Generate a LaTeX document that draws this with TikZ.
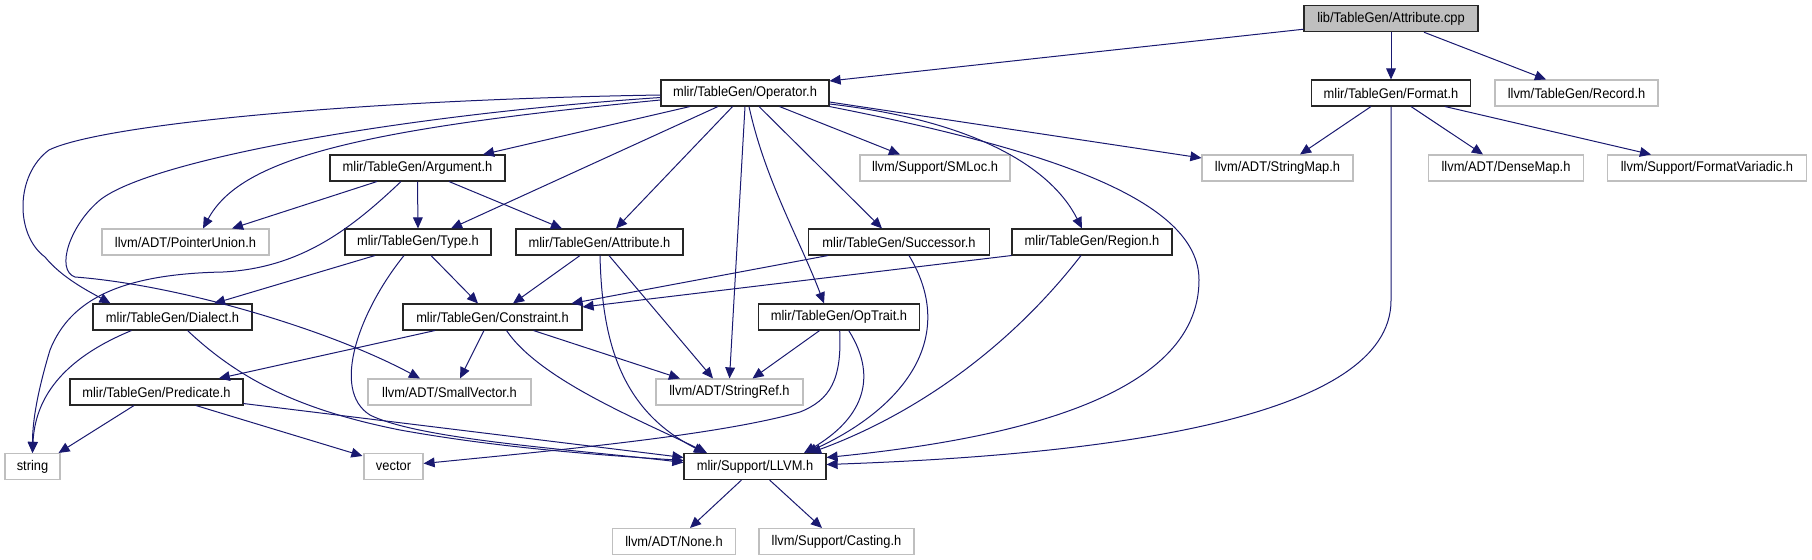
\documentclass[tikz,border=0pt]{standalone}
\usepackage{fontspec}
\setmainfont{Liberation Sans}[FakeStretch=0.92]
\usetikzlibrary{arrows.meta,calc}
\definecolor{edgec}{HTML}{191970}
\definecolor{lgray}{HTML}{BFBFBF}
\begin{document}
\begin{tikzpicture}[x=0.75pt,y=-0.75pt,
  nb/.style={draw=black!85, line width=0.8pt, minimum height=19.5pt, inner sep=0pt,
             font=\fontsize{10.5}{12}\selectfont, fill=white},
  ext/.style={nb, draw=lgray},
  rootb/.style={nb, fill=lgray},
  wd/.style={minimum width=#1*0.75pt},
  edge/.style={draw=edgec, line width=0.75pt, -{Triangle[length=8.3pt,width=7.3pt]}}]
\useasboundingbox (0,0) rectangle (1812,560);
% nodes
\node[rootb, wd=174] (root) at (1391,18.7) {lib/TableGen/Attribute.cpp};
\node[nb,  wd=168] (op)   at (745,93)    {mlir/TableGen/Operator.h};
\node[nb,  wd=159] (fmt)  at (1391,93)   {mlir/TableGen/Format.h};
\node[ext, wd=163] (rec)  at (1576.5,93) {llvm/TableGen/Record.h};
\node[nb,  wd=175] (arg)  at (417.5,168) {mlir/TableGen/Argument.h};
\node[ext, wd=150] (sml)  at (935,168)   {llvm/Support/SMLoc.h};
\node[ext, wd=151] (smap) at (1277.5,168){llvm/ADT/StringMap.h};
\node[ext, wd=155] (dmap) at (1506,168)  {llvm/ADT/DenseMap.h};
\node[ext, wd=199] (fvar) at (1707,168)  {llvm/Support/FormatVariadic.h};
\node[ext, wd=167] (pu)   at (185.5,242) {llvm/ADT/PointerUnion.h};
\node[nb,  wd=146] (type) at (418,242)   {mlir/TableGen/Type.h};
\node[nb,  wd=167] (attr) at (599.5,242) {mlir/TableGen/Attribute.h};
\node[nb,  wd=181] (succ) at (899,242)   {mlir/TableGen/Successor.h};
\node[nb,  wd=160] (reg)  at (1092,242)  {mlir/TableGen/Region.h};
\node[nb,  wd=159] (dia)  at (172.5,317) {mlir/TableGen/Dialect.h};
\node[nb,  wd=179] (con)  at (492.5,317) {mlir/TableGen/Constraint.h};
\node[nb,  wd=161] (opt)  at (839,317)   {mlir/TableGen/OpTrait.h};
\node[nb,  wd=173] (pred) at (156.5,392) {mlir/TableGen/Predicate.h};
\node[ext, wd=163] (svec) at (449.5,392) {llvm/ADT/SmallVector.h};
\node[ext, wd=147] (sref) at (729.5,392) {llvm/ADT/StringRef.h};
\node[ext, wd=55]  (str)  at (32.5,466.5){string};
\node[ext, wd=59]  (vec)  at (393.5,466.5){vector};
\node[nb,  wd=142] (llvm) at (755,466.5) {mlir/Support/LLVM.h};
\node[ext, wd=122.5] (none) at (674,541.5) {llvm/ADT/None.h};
\node[ext, wd=155] (cast) at (836.5,541.5) {llvm/Support/Casting.h};
% root
\draw[edge] ($(root.south west)+(0,-3)$) -- ($(op.north east)+(0,1.5)$);
\draw[edge] (root.south) -- (fmt.north);
\draw[edge] ($(root.south)+(33,0)$) -- ($(rec.north)+(-30.5,0)$);
% format
\draw[edge] ($(fmt.south)+(-20,0)$) -- ($(smap.north)+(22.5,0)$);
\draw[edge] ($(fmt.south)+(20,0)$) -- ($(dmap.north)+(-23,0)$);
\draw[edge] ($(fmt.south)+(54,0)$) -- ($(fvar.north)+(-56,0)$);
\draw[edge] (fmt.south) -- ($(fmt.south)+(0,194)$) .. controls (1391,420) and (1100,455) .. ($(llvm.east)+(0,-2)$);
% operator
\draw[edge] ($(op.east)+(0,9)$) -- ($(smap.west)+(0,-10)$);
\draw[edge] ($(op.south)+(34.5,0)$) -- ($(sml.north)+(-35,0)$);
\draw[edge] ($(op.south)+(14,0)$) -- ($(succ.north)+(-17,0)$);
\draw[edge] ($(op.east)+(0,11)$) .. controls (970,120) and (1050,165) .. ($(reg.north)+(-10,0)$);
\draw[edge] ($(op.south east)+(0,0)$) .. controls (1050,150) and (1199,200) .. (1199,280) .. controls (1199,400) and (1000,440) .. ($(llvm.east)+(0,-9)$);
\draw[edge] ($(op.south)+(4,0)$) .. controls (765,180) and (800,240) .. ($(opt.north)+(-15,0)$);
\draw[edge] (op.south) -- (sref.north);
\draw[edge] ($(op.south)+(-12.4,0)$) -- ($(attr.north)+(16.5,0)$);
\draw[edge] ($(op.south)+(-27,0)$) -- ($(type.north)+(33,0)$);
\draw[edge] ($(op.south)+(-55,0)$) -- ($(arg.north)+(65.5,0)$);
\draw[edge] ($(op.west)+(0,7)$) .. controls (350,130) and (240,160) .. ($(pu.north)+(17.5,0)$);
\draw[edge] ($(op.west)+(0,2)$) .. controls (350,100) and (100,125) .. (49,150) .. controls (15,175) and (15,235) .. (45,257) .. controls (62,278) and (90,292) .. ($(dia.north)+(-62,0)$);
\draw[edge] ($(op.west)+(0,4.5)$) .. controls (400,115) and (150,160) .. (100,200) .. controls (70,225) and (55,270) .. (75,277) .. controls (180,285) and (330,330) .. ($(svec.north)+(-29.5,0)$);
% argument
\draw[edge] ($(arg.south)+(-40.5,0)$) -- ($(pu.north)+(46.5,0)$);
\draw[edge] (arg.south) -- (type.north);
\draw[edge] ($(arg.south)+(31.5,0)$) -- ($(attr.north)+(-37.5,0)$);
\draw[edge] ($(arg.south)+(-16.5,0)$) .. controls (350,230) and (300,268) .. (223,272) .. controls (120,274) and (70,300) .. (50,350) .. controls (38,390) and (32.5,420) .. (str.north);
% type
\draw[edge] ($(type.south)+(-43,0)$) -- ($(dia.north)+(41.5,0)$);
\draw[edge] ($(type.south)+(13,0)$) -- ($(con.north)+(-14.5,0)$);
\draw[edge] ($(type.south)+(-14,0)$) .. controls (360,310) and (330,390) .. (370,415) .. controls (420,440) and (580,450) .. ($(llvm.west)+(0,-4)$);
% attribute
\draw[edge] ($(attr.south)+(-19.5,0)$) -- ($(con.north)+(20.5,0)$);
\draw[edge] ($(attr.south)+(0.5,0)$) .. controls (602,340) and (620,410) .. ($(llvm.north)+(-50,0)$);
\draw[edge] ($(attr.south)+(9.5,0)$) -- ($(sref.north)+(-16.5,0)$);
% successor
\draw[edge] ($(succ.south west)+(20,0)$) -- ($(con.north east)+(-11,0)$);
\draw[edge] ($(succ.south)+(10,0)$) .. controls (960,340) and (900,410) .. ($(llvm.north)+(51,0)$);
% region
\draw[edge] (reg.south west) -- ($(con.east)+(0,-10)$);
\draw[edge] ($(reg.south)+(-11,0)$) .. controls (1000,360) and (900,420) .. ($(llvm.north)+(55,0)$);
% constraint
\draw[edge] ($(con.south)+(-57.5,0)$) -- ($(pred.north)+(62.25,0)$);
\draw[edge] ($(con.south)+(-8.5,0)$) -- ($(svec.north)+(10.5,0)$);
\draw[edge] ($(con.south)+(41,0)$) -- ($(sref.north)+(-49.5,0)$);
\draw[edge] ($(con.south)+(14,0)$) .. controls (540,380) and (640,420) .. ($(llvm.north)+(-48,0)$);
% dialect
\draw[edge] ($(dia.south)+(-41,0)$) .. controls (60,360) and (35,400) .. (str.north);
\draw[edge] ($(dia.south)+(15,0)$) .. controls (240,380) and (300,410) .. (400,430) .. controls (500,448) and (600,455) .. ($(llvm.west)+(0,-6)$);
% predicate
\draw[edge] ($(pred.south)+(-22.5,0)$) -- ($(str.north east)+(-2,0)$);
\draw[edge] ($(pred.south)+(39.5,0)$) -- ($(vec.north west)+(-1,3)$);
\draw[edge] ($(pred.south east)+(0,-2)$) -- ($(llvm.west)+(0,-9)$);
% optrait
\draw[edge] ($(opt.south)+(-19.4,0)$) -- ($(sref.north)+(23,0)$);
\draw[edge] ($(opt.south)+(0.7,0)$) .. controls (842,380) and (830,400) .. (800,412) .. controls (720,435) and (560,450) .. ($(vec.east)+(0,-3)$);
\draw[edge] ($(opt.south)+(9.7,0)$) .. controls (880,380) and (860,420) .. ($(llvm.north)+(49,0)$);
% llvm
\draw[edge] ($(llvm.south)+(-13.5,0)$) -- ($(none.north)+(16,0)$);
\draw[edge] ($(llvm.south)+(14.6,0)$) -- ($(cast.north)+(-14.5,0)$);
\end{tikzpicture}
\end{document}
